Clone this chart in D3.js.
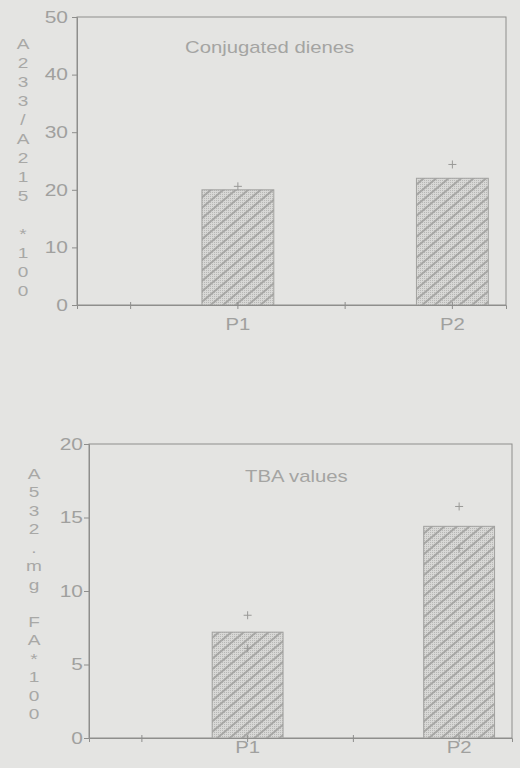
<!DOCTYPE html>
<html>
<head>
<meta charset="utf-8">
<script src="https://cdn.jsdelivr.net/npm/d3@7/dist/d3.min.js"></script>
<style>
  html, body { margin: 0; padding: 0; background: #e4e4e2; }
  svg { display: block; }
  text { font-family: "Liberation Sans", Arial, sans-serif; fill: #9a9a9a; }
</style>
</head>
<body>
<script>
// ---- data ----
const slots = ["s1", "P1", "s2", "P2"];          // x-axis slots (P labels shown)
const categories = ["P1", "P2"];

const dieneTitle = "Conjugated dienes";
const dieneValues = [20, 22];
const dienePlus = [{cat: "P1", v: 20.6}, {cat: "P2", v: 24.4}];
const dieneTicks = [0, 10, 20, 30, 40, 50];
const dieneYLabel = ["A","2","3","3","/","A","2","1","5"," ","*","1","0","0"];

const tbaTitle = "TBA values";
const tbaValues = [7.2, 14.4];
const tbaPlus = [{cat: "P1", v: 8.35}, {cat: "P1", v: 6.1}, {cat: "P2", v: 15.75}, {cat: "P2", v: 12.9}];
const tbaTicks = [0, 5, 10, 15, 20];
const tbaYLabel = ["A","5","3","2",".","m","g"," ","F","A","*","1","0","0"];

// ---- drawing ----
const SX = 1.27; // horizontal stretch of the scanned lettering
const svg = d3.select("body").append("svg").attr("width", 520).attr("height", 768);

const defs = svg.append("defs");
const dots = defs.append("pattern").attr("id", "dots")
  .attr("patternUnits", "userSpaceOnUse").attr("width", 2).attr("height", 2);
dots.append("rect").attr("width", 2).attr("height", 2).attr("fill", "#d8d8d6");
dots.append("rect").attr("width", 1).attr("height", 1).attr("fill", "#b8b8b6");
const hatch = defs.append("pattern").attr("id", "hatch")
  .attr("patternUnits", "userSpaceOnUse").attr("width", 8).attr("height", 8)
  .attr("patternTransform", "rotate(50)");
hatch.append("line").attr("x1", 1).attr("x2", 1).attr("y1", 0).attr("y2", 8)
  .attr("stroke", "#9c9c9a").attr("stroke-width", 1.6);

function stretched(g, x, y, str, size, anchor) {
  return g.append("text")
    .attr("transform", `translate(${x},${y}) scale(${SX},1)`)
    .attr("text-anchor", anchor || "start")
    .attr("font-size", size)
    .text(str);
}

function drawChart(cfg) {
  const x = d3.scaleBand().domain(slots).range([cfg.left, cfg.right])
    .paddingInner(0.33).paddingOuter(0.165);
  const y = d3.scaleLinear().domain([0, cfg.max]).range([cfg.bottom, cfg.top]);
  const g = svg.append("g");

  // frame
  g.append("rect").attr("x", cfg.left).attr("y", cfg.top)
    .attr("width", cfg.right - cfg.left).attr("height", cfg.bottom - cfg.top)
    .attr("fill", "none").attr("stroke", "#8e8e8c").attr("stroke-width", 1);

  // bars
  const bars = categories.map((c, i) => ({cat: c, v: cfg.values[i]}));
  ["url(#dots)", "url(#hatch)"].forEach(f => {
    g.selectAll(null).data(bars).enter().append("rect")
      .attr("x", d => x(d.cat)).attr("width", x.bandwidth())
      .attr("y", d => y(d.v)).attr("height", d => y(0) - y(d.v))
      .attr("fill", f)
      .attr("stroke", f === "url(#hatch)" ? "#a2a2a0" : "none")
      .attr("stroke-width", 1);
  });

  // plus markers
  g.selectAll(null).data(cfg.plus).enter().append("path")
    .attr("transform", d => `translate(${x(d.cat) + x.bandwidth() / 2 + cfg.plusDx},${y(d.v)})`)
    .attr("d", "M-4,0H4M0,-4V4")
    .attr("stroke", "#999997").attr("stroke-width", 1).attr("fill", "none");

  // y axis
  const ya = g.append("g").attr("transform", `translate(${cfg.left},0)`)
    .call(d3.axisLeft(y).tickValues(cfg.ticks).tickSize(5).tickPadding(0));
  ya.select(".domain").attr("stroke", "#8e8e8c");
  ya.selectAll(".tick line").attr("stroke", "#8e8e8c");
  ya.selectAll(".tick text")
    .attr("x", null)
    .attr("transform", `translate(${-cfg.labelGap},0) scale(${SX},1)`)
    .attr("font-size", 16.5).attr("font-family", null).style("fill", "#a0a09e");

  // x axis
  const xa = g.append("g").attr("transform", `translate(0,${cfg.bottom})`)
    .call(d3.axisBottom(x).tickSize(4).tickPadding(0).tickFormat(d => d.startsWith("P") ? d : ""));
  xa.select(".domain").attr("stroke", "#8e8e8c");
  xa.selectAll(".tick line").attr("y1", -3).attr("y2", 4).attr("stroke", "#8e8e8c");
  xa.selectAll(".tick text")
    .attr("y", null).attr("dy", null)
    .attr("transform", `translate(0,${cfg.xLabelY}) scale(${SX},1)`)
    .attr("font-size", 16).attr("font-family", null).style("fill", "#a0a09e");

  // title
  stretched(g, cfg.titleX, cfg.titleY, cfg.title, 16).style("fill", "#a4a4a2");

  // stacked y label
  cfg.yLabel.forEach((ch, i) => {
    stretched(g, cfg.ylX, cfg.ylY0 + i * cfg.ylStep + 5.5, ch, 15, "middle").style("fill", "#a8a8a6");
  });
}

drawChart({
  left: 77, right: 506, top: 17, bottom: 305, max: 50,
  values: dieneValues, plus: dienePlus, plusDx: 0, ticks: dieneTicks,
  labelGap: 9, xLabelY: 25,
  title: dieneTitle, titleX: 185, titleY: 53,
  yLabel: dieneYLabel, ylX: 23, ylY0: 43, ylStep: 19
});

drawChart({
  left: 89, right: 512, top: 444, bottom: 738, max: 20,
  values: tbaValues, plus: tbaPlus, plusDx: 0, ticks: tbaTicks,
  labelGap: 6, xLabelY: 15,
  title: tbaTitle, titleX: 245, titleY: 482,
  yLabel: tbaYLabel, ylX: 34, ylY0: 473, ylStep: 18.5
});
</script>
</body>
</html>
